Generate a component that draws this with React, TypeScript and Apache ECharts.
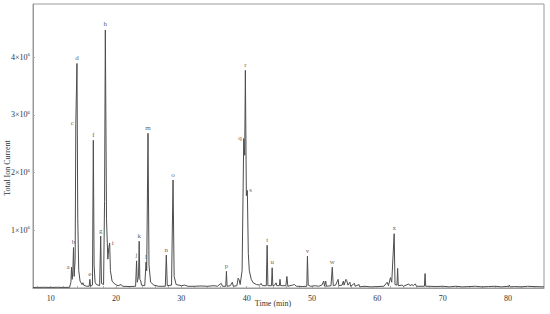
import React, { useEffect, useRef } from "react";
import * as echarts from "echarts";

// Chromatogram trace (time in min, total ion current in units of 10^6)
const times = [
  7.3, 8, 9, 10, 11, 12, 12.9, 13.1, 13.2, 13.3, 13.4, 13.5, 13.6, 13.75, 13.85, 14.03, 14.15, 14.3, 14.5, 14.8,
  14.95, 15.05, 15.5, 15.9, 16.0, 16.1, 16.4, 16.53, 16.65, 16.8, 17.0, 17.5, 17.66, 17.78, 18.1, 18.25, 18.37,
  18.55, 18.75, 18.9, 19.03, 19.15, 19.4, 19.8, 20.3, 20.8, 21, 22, 23.0, 23.15, 23.25, 23.45, 23.55, 23.65, 23.8,
  23.9, 24.4, 24.6, 24.7, 24.9, 25.05, 25.3, 25.8, 26.5, 27.55, 27.7, 27.85, 28.5, 28.73, 28.9, 29.2, 30, 30.5, 31,
  32, 33, 34, 35, 35.5, 36.1, 36.3, 36.8, 36.9, 37.0, 37.5, 37.8, 37.95, 38.5, 38.7, 38.85, 39.0, 39.3, 39.55, 39.7,
  39.8, 39.95, 40.1, 40.25, 40.4, 40.7, 41.0, 41.5, 42.0, 42.2, 42.4, 43.0, 43.13, 43.25, 43.8, 43.9, 44.0, 44.3,
  44.5, 44.6, 45.0, 45.1, 45.2, 46.0, 46.15, 46.3, 47.0, 47.3, 47.6, 48, 48.5, 49.2, 49.3, 49.42, 49.8, 50.5, 51.0,
  51.5, 51.8, 51.9, 52.1, 52.2, 52.9, 53.1, 53.25, 53.6, 54.0, 54.1, 54.6, 54.8, 54.9, 55.2, 55.3, 55.5, 55.8, 55.9,
  56.5, 56.6, 57.2, 57.3, 58, 59, 60, 61, 61.5, 61.7, 62.0, 62.2, 62.57, 62.7, 63.0, 63.1, 63.2, 63.8, 64, 64.8, 65,
  65.3, 65.5, 65.8, 66, 67.2, 67.3, 67.4, 68, 69, 70, 71, 72, 73, 74, 75, 76, 77, 78, 79, 80.1, 80.2, 80.3, 81, 82,
  83, 84, 85.5,
];
const tic = [
  0.01, 0.01, 0.012, 0.01, 0.012, 0.01, 0.012, 0.1, 0.36, 0.15, 0.3, 0.7, 0.2, 0.5, 2.85, 3.89, 1.2, 0.3, 0.12, 0.06,
  0.09, 0.05, 0.03, 0.03, 0.15, 0.03, 0.05, 2.56, 0.4, 0.1, 0.06, 0.04, 0.9, 0.08, 0.06, 1.5, 4.47,
  1.2, 0.5, 0.7, 0.78, 0.3, 0.12, 0.07, 0.04, 0.06, 0.03, 0.025, 0.03, 0.47, 0.1, 0.2, 0.81, 0.15, 0.12,
  0.05, 0.04, 0.45, 0.3, 2.68, 0.4, 0.1, 0.05, 0.03, 0.03, 0.57, 0.04, 0.05, 1.87, 0.2, 0.06, 0.04, 0.05, 0.03,
  0.03, 0.035, 0.03, 0.04, 0.03, 0.08, 0.03, 0.03, 0.29, 0.03, 0.04, 0.1, 0.03, 0.04, 0.17, 0.14, 0.06, 0.3, 2.59, 2.3,
  3.77, 1.6, 1.69, 0.6, 0.3, 0.15, 0.09, 0.06, 0.05, 0.08, 0.04, 0.04, 0.74, 0.04, 0.04, 0.35, 0.04, 0.05,
  0.09, 0.04, 0.04, 0.15, 0.04, 0.04, 0.2, 0.03, 0.05, 0.06, 0.03, 0.03, 0.025, 0.03, 0.55, 0.05, 0.03, 0.04, 0.03,
  0.05, 0.12, 0.03, 0.12, 0.03, 0.04, 0.36, 0.04, 0.05, 0.15, 0.04, 0.05, 0.12, 0.05, 0.15, 0.13, 0.05, 0.1, 0.03,
  0.08, 0.03, 0.06, 0.02, 0.03, 0.02, 0.025, 0.03, 0.1, 0.04, 0.18, 0.1, 0.94, 0.06, 0.05, 0.34, 0.04, 0.05, 0.03, 0.07, 0.04,
  0.06, 0.04, 0.07, 0.03, 0.03, 0.25, 0.03, 0.03, 0.025, 0.03, 0.02, 0.03, 0.02, 0.025, 0.03, 0.02, 0.025, 0.03, 0.02, 0.03, 0.05, 0.02, 0.025, 0.02,
  0.03, 0.025, 0.02,
];

// Peak annotations
const peakNames = ["a", "b", "c", "d", "e", "f", "g", "h", "i", "j", "k", "l", "m", "n", "o", "p", "q", "r", "s", "t", "u", "v", "w", "x"];
const peakTimes = [13.2, 13.5, 13.85, 14.03, 16.0, 16.53, 17.66, 18.37, 19.03, 23.15, 23.55, 24.6, 24.9, 27.7, 28.73, 36.9, 39.55, 39.8, 40.1, 43.13, 43.9, 49.3, 53.1, 62.57];
const peakValues = [0.36, 0.7, 2.85, 3.89, 0.15, 2.56, 0.9, 4.47, 0.78, 0.47, 0.81, 0.45, 2.68, 0.57, 1.87, 0.29, 2.59, 3.77, 1.69, 0.74, 0.35, 0.55, 0.36, 0.94];

const xTickLabels = [10, 20, 30, 40, 50, 60, 70, 80];
const yTickValues = [1, 2, 3, 4];

const labelSide: Record<string, string> = { a: "left", c: "left", i: "right", q: "left", s: "right" };

const FONT = "Liberation Serif";
const TEXT = "#333333";

export default function App() {
  const ref = useRef<HTMLDivElement>(null);
  useEffect(() => {
    if (!ref.current) return;
    const chart = echarts.init(ref.current, undefined, { renderer: "svg" });
    const trace = times.map((t, i) => [t, tic[i]]);
    const marks = peakNames.map((n, i) => ({
      name: n,
      value: [peakTimes[i], peakValues[i]],
      label: {
        show: true,
        position: (labelSide[n] || "top") as any,
        color: TEXT,
        fontSize: 7,
        fontFamily: FONT,
        distance: 2,
        formatter: "{b}",
      },
    }));
    const minorTicks: number[] = [];
    for (let v = 8; v <= 84; v += 2) minorTicks.push(v);
    chart.setOption({
      animation: false,
      textStyle: { fontFamily: FONT, color: TEXT },
      grid: { left: 33, right: 6, top: 4, bottom: 26, show: true, borderColor: "#9a9a9a", borderWidth: 1 },
      xAxis: {
        type: "value",
        min: 7.3,
        max: 85.5,
        axisLine: { show: true, lineStyle: { color: "#9a9a9a" } },
        axisTick: { show: true, inside: true, length: 2, customValues: minorTicks, lineStyle: { color: "#aaa" } },
        splitLine: { show: false },
        axisLabel: { customValues: xTickLabels, fontSize: 8, color: TEXT, fontFamily: FONT, margin: 6 },
      },
      yAxis: {
        type: "value",
        min: 0,
        max: 4.92,
        axisLine: { show: true, lineStyle: { color: "#9a9a9a" } },
        axisTick: { show: true, inside: true, length: 2, customValues: yTickValues, lineStyle: { color: "#aaa" } },
        splitLine: { show: false },
        axisLabel: {
          customValues: yTickValues,
          fontSize: 8,
          color: TEXT,
          fontFamily: FONT,
          margin: 3,
          formatter: (v: number) => `${v}×10{sup|6}`,
          rich: { sup: { fontSize: 5, verticalAlign: "top", color: TEXT, fontFamily: FONT, padding: [0, 0, 5, 0] } },
        },
      },
      series: [
        {
          type: "line",
          data: trace,
          showSymbol: false,
          symbol: "none",
          lineStyle: { color: "#4d4d4d", width: 1 },
          z: 2,
        },
        {
          type: "scatter",
          data: marks,
          symbolSize: 0,
          itemStyle: { color: TEXT },
          label: { show: true, formatter: "{b}", fontSize: 7, color: TEXT, fontFamily: FONT, distance: 2 },
          z: 3,
        },
      ],
      graphic: [
        {
          type: "text",
          x: 7,
          y: 168,
          rotation: Math.PI / 2,
          style: { text: "Total Ion Current", fontSize: 8, fontFamily: FONT, fill: TEXT, align: "center", verticalAlign: "middle" },
        },
        {
          type: "text",
          x: 273,
          y: 303,
          style: { text: "Time (min)", fontSize: 8, fontFamily: FONT, fill: TEXT, align: "center", verticalAlign: "middle" },
        },
      ],
    });
    return () => chart.dispose();
  }, []);
  return <div ref={ref} style={{ width: 550, height: 314, position: "absolute", left: 0, top: 0 }} />;
}
